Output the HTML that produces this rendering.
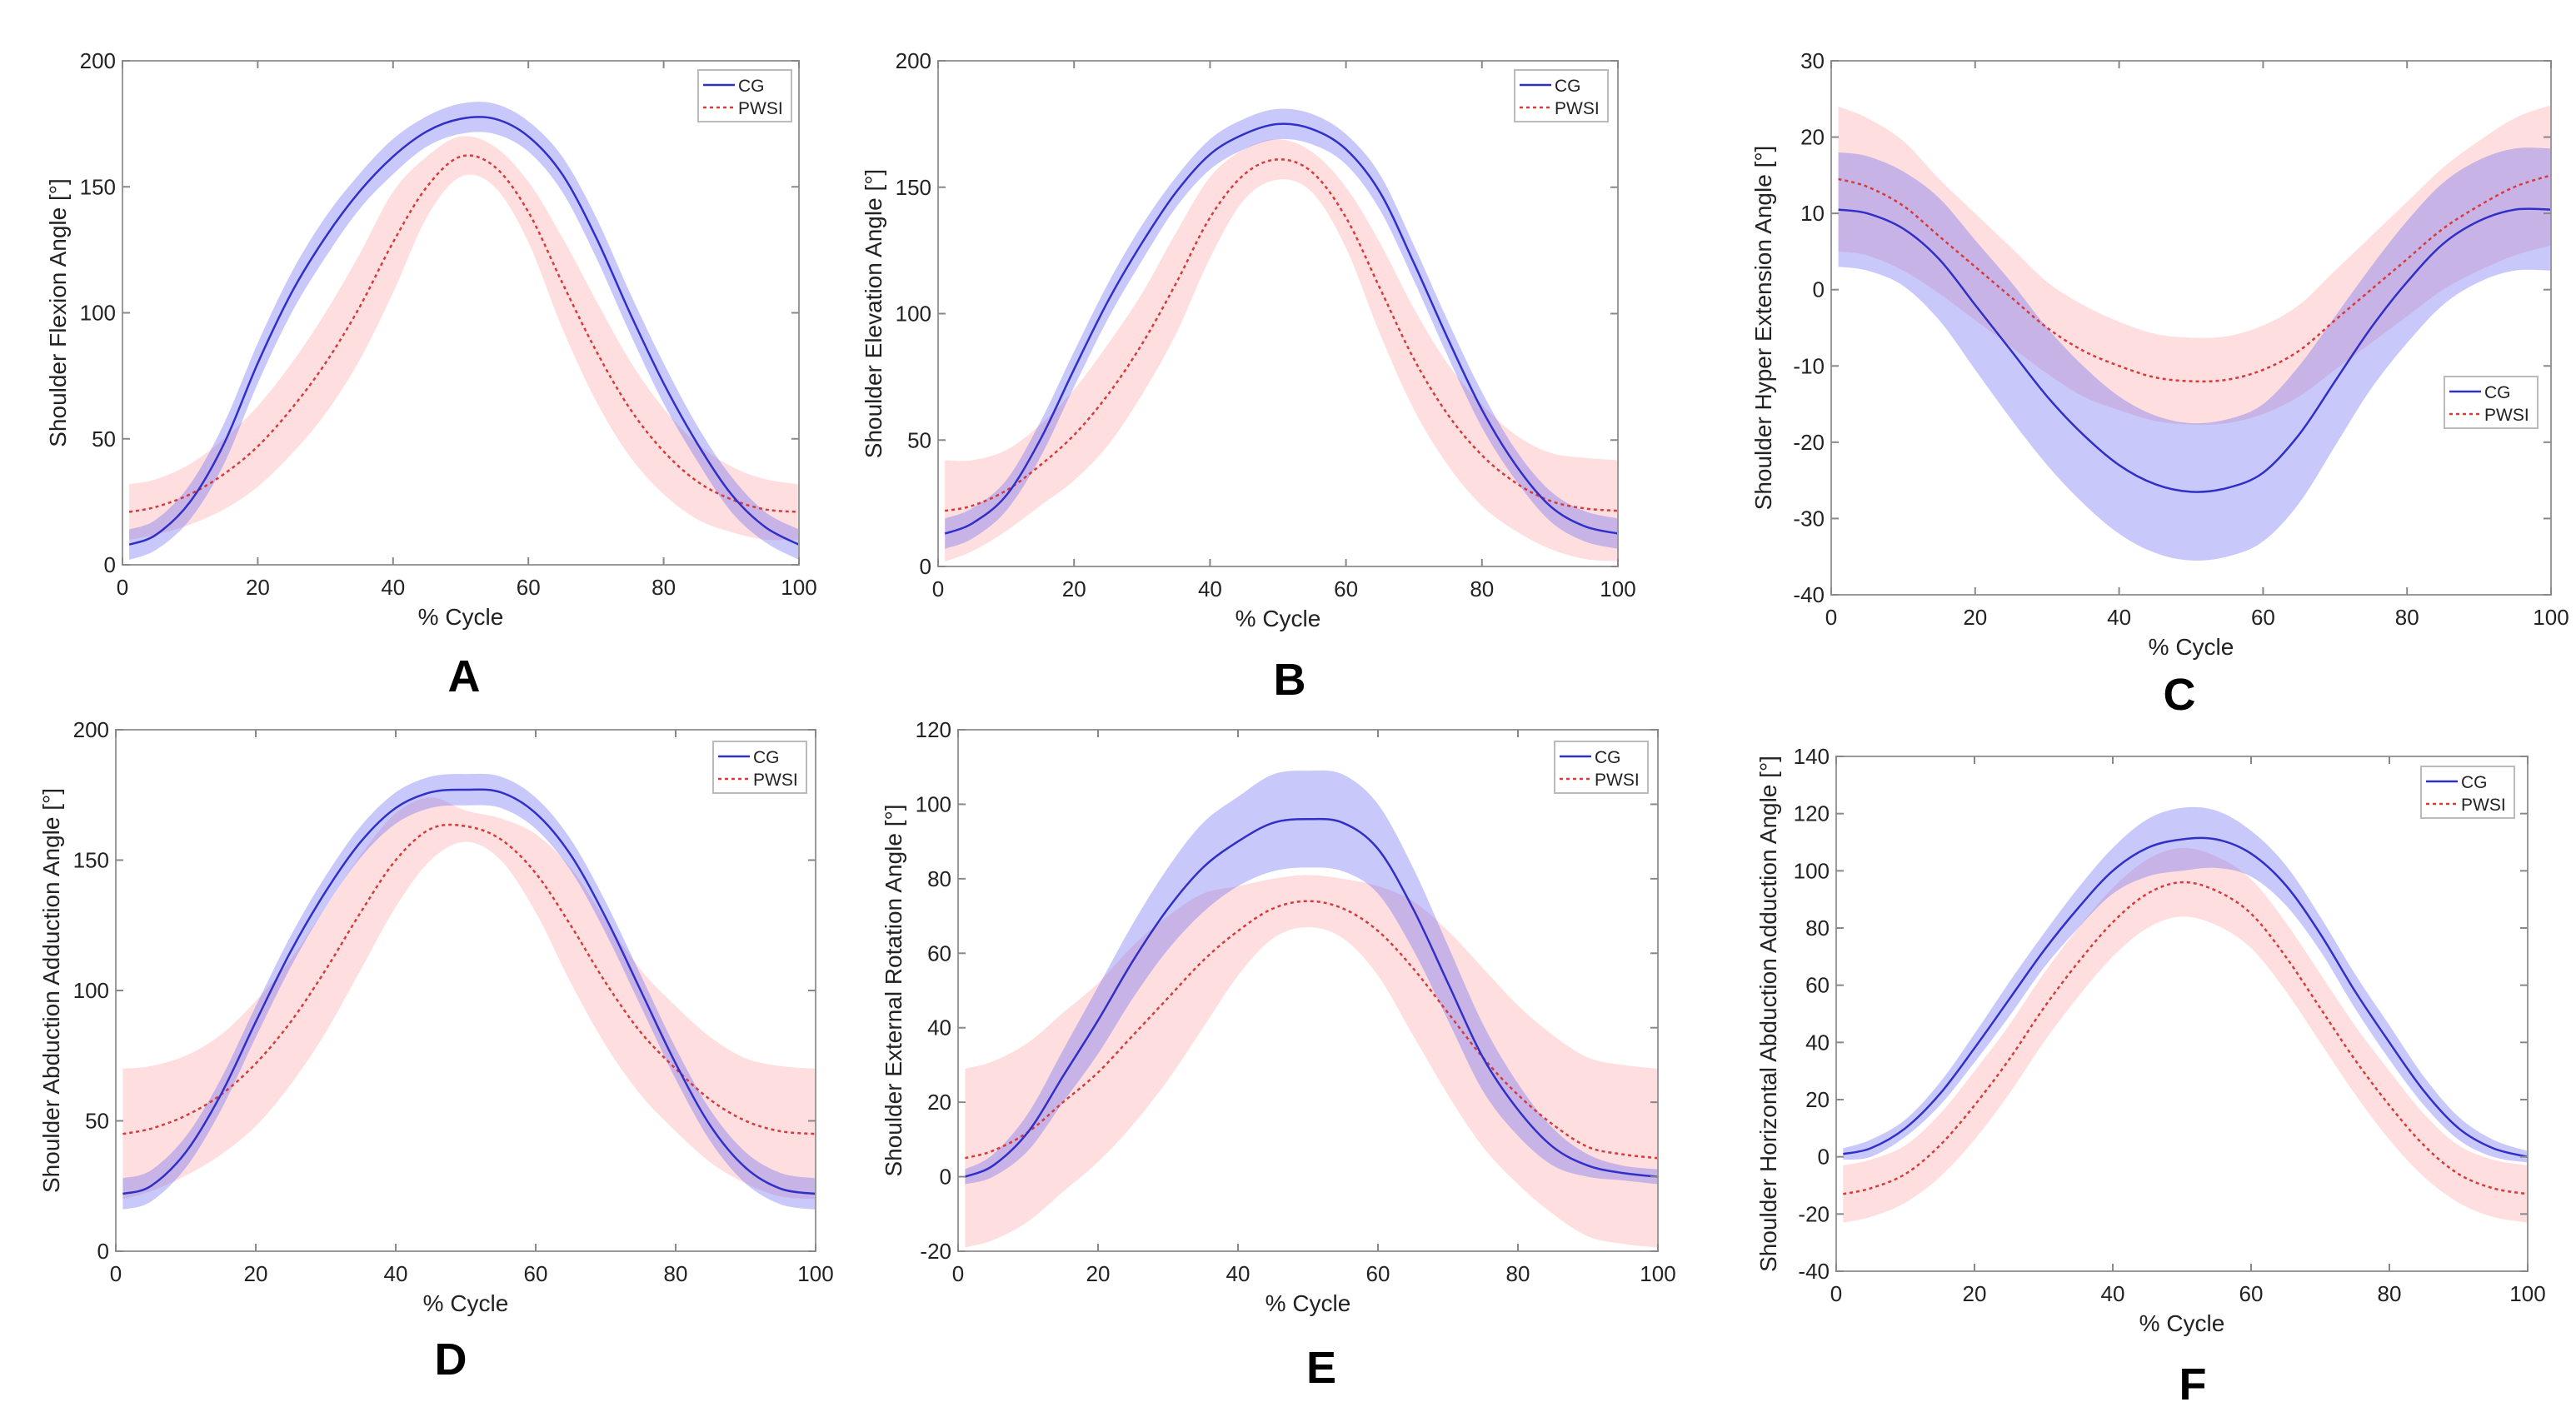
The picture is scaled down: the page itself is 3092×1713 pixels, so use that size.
<!DOCTYPE html>
<html><head><meta charset="utf-8">
<style>
html,body{margin:0;padding:0;background:#fff;}
svg{display:block;font-family:"Liberation Sans",Arial,sans-serif;}
</style></head>
<body>
<svg id="fig" width="3092" height="1713" viewBox="0 0 3092 1713" xmlns="http://www.w3.org/2000/svg"></svg>
<script>
const xPct = [0,5,10,15,20,25,30,35,40,45,50,55,60,65,70,75,80,85,90,95,100];
const xTicks = [0,20,40,60,80,100];

const aCG = [8,12,25,48,80,108,130,148,162,172,177,177,170,155,130,100,72,48,28,15,8];
const aCGsd = [6,6,7,8,8,8,8,7,7,6,6,6,6,7,8,8,8,7,7,6,6];
const aPW = [21,23,28,36,47,62,80,102,128,150,162,158,140,112,85,62,45,33,26,22,21];
const aPWsd = [11,11,12,14,16,18,20,21,20,12,8,8,12,18,20,19,17,15,13,12,11];

const bCG = [13,17,28,50,78,105,128,148,163,171,175,173,165,148,120,90,62,40,24,16,13];
const bCGsd = [6,6,6,7,7,7,7,6,6,6,6,6,6,7,7,7,7,6,6,6,6];
const bPW = [22,24,30,40,52,68,88,112,138,155,161,156,138,110,82,60,44,33,26,23,22];
const bPWsd = [20,18,16,16,18,20,20,20,16,10,8,8,12,18,20,20,20,19,19,20,20];

const cCG = [10.5,10,8,4,-2,-8,-14,-19,-23,-25.5,-26.5,-26,-24,-19,-12,-5,1,6,9,10.5,10.5];
const cCGsd = [7.5,7.5,7.5,8,8.5,9,9,9,9,9,9,9,9,9,8.5,8,8,8,8,8,8];
const cPW = [14.5,13.5,11,7,3,-1,-5,-8,-10,-11.5,-12,-11.8,-10.5,-8,-4,0,4,8,11,13.5,15];
const cPWsd = [9.5,9,8.5,7.5,7,6.5,6,6,5.8,5.7,5.7,5.7,5.8,6,6.5,7,7.5,8,8.5,9,9.2];

const dCG = [22,25,38,60,88,115,138,157,170,176,177,176,168,152,128,100,72,48,32,24,22];
const dCGsd = [6,6,6,6,6,6,6,6,6,6,6,6,6,6,6,6,6,6,6,6,6];
const dPW = [45,47,52,60,72,88,108,130,150,162,163,158,145,125,103,84,70,58,50,46,45];
const dPWsd = [25,24,23,23,24,24,24,22,18,12,6,8,15,22,24,24,24,24,24,25,25];

const eCG = [0,3,12,27,42,58,72,83,90,95,96,95,88,72,52,32,18,8,3,1,0];
const eCGsd = [2,3,5,7,9,10,11,12,12,13,13,13,12,11,10,9,7,5,3,2,2];
const ePW = [5,7,12,20,28,38,48,58,66,72,74,72,66,56,44,32,22,14,8,6,5];
const ePWsd = [24,24,24,24,24,24,22,18,12,8,7,8,12,18,22,24,24,24,24,24,24];

const fCG = [1,3,10,22,38,55,72,87,100,108,111,111,106,95,78,58,40,23,10,3,0];
const fCGsd = [2,3,3,4,5,6,6,7,8,10,11,10,8,7,6,6,6,5,4,3,2];
const fPW = [-13,-11,-6,4,18,34,52,68,82,92,96,93,85,70,52,34,18,4,-6,-11,-13];
const fPWsd = [10,10,10,11,12,12,12,12,12,12,12,12,12,12,12,12,12,11,10,10,10];

const yTicksA = [0,50,100,150,200];
const yTicksC = [-40,-30,-20,-10,0,10,20,30];
const yTicksE = [-20,0,20,40,60,80,100,120];
const yTicksF = [-40,-20,0,20,40,60,80,100,120,140];

const NS = "http://www.w3.org/2000/svg";
const svg = document.getElementById('fig');
function mk(tag, attrs, parent){ const e=document.createElementNS(NS,tag); for(const k in attrs) e.setAttribute(k,attrs[k]); (parent||svg).appendChild(e); return e; }

function smooth(pts){
  let d = "M"+pts[0][0].toFixed(1)+","+pts[0][1].toFixed(1);
  for(let i=0;i<pts.length-1;i++){
    const p0=pts[Math.max(0,i-1)], p1=pts[i], p2=pts[i+1], p3=pts[Math.min(pts.length-1,i+2)];
    const c1=[p1[0]+(p2[0]-p0[0])/6, p1[1]+(p2[1]-p0[1])/6];
    const c2=[p2[0]-(p3[0]-p1[0])/6, p2[1]-(p3[1]-p1[1])/6];
    d+=" C"+c1[0].toFixed(1)+","+c1[1].toFixed(1)+" "+c2[0].toFixed(1)+","+c2[1].toFixed(1)+" "+p2[0].toFixed(1)+","+p2[1].toFixed(1);
  }
  return d;
}
function smoothCont(pts){ return smooth(pts).replace(/^M/,"L"); }

function panel(o){
  const g = mk('g',{});
  
  
  const sx = v => o.L + (v-0)/(100)*(o.R-o.L);
  const sy = v => o.B - (v-o.ymin)/(o.ymax-o.ymin)*(o.B-o.T);
  mk('rect',{x:o.L,y:o.T,width:o.R-o.L,height:o.B-o.T,fill:'#fff'},g);
  // bands
  function band(mean, sd, fill, name){
    const up = xPct.map((x,i)=>[sx(x+ (i==0?1:0)), sy(mean[i]+sd[i])]);
    const lo = xPct.map((x,i)=>[sx(x+ (i==0?1:0)), sy(mean[i]-sd[i])]).reverse();
    const p = mk('path',{d:smooth(up)+" "+smoothCont(lo)+" Z",fill:fill},g);
    
    
  }
  band(o.pw,o.pwsd,'rgba(252,176,176,0.42)','pwsi-band');
  band(o.cg,o.cgsd,'rgba(110,110,245,0.38)','cg-band');
  const lp = mk('path',{d:smooth(xPct.map((x,i)=>[sx(x+(i==0?1:0)),sy(o.pw[i])])),fill:'none',stroke:'#d83a3a','stroke-width':2.5,'stroke-dasharray':'4 4'},g);
  
  
  const lc = mk('path',{d:smooth(xPct.map((x,i)=>[sx(x+(i==0?1:0)),sy(o.cg[i])])),fill:'none',stroke:'#3030c8','stroke-width':2.5},g);
  
  
  // frame
  mk('rect',{x:o.L,y:o.T,width:o.R-o.L,height:o.B-o.T,fill:'none',stroke:'#9a9a9a','stroke-width':2},g);
  // ticks
  xTicks.forEach(t=>{
    const x=sx(t);
    mk('line',{x1:x,y1:o.B,x2:x,y2:o.B-9,stroke:'#888','stroke-width':2},g);
    mk('line',{x1:x,y1:o.T,x2:x,y2:o.T+9,stroke:'#888','stroke-width':2},g);
    const tx=mk('text',{x:x,y:o.B+36,'font-size':26,fill:'#222','text-anchor':'middle'},g);
    tx.textContent=t;
    
    
  });
  o.yt.forEach(t=>{
    const y=sy(t);
    mk('line',{x1:o.L,y1:y,x2:o.L+9,y2:y,stroke:'#888','stroke-width':2},g);
    mk('line',{x1:o.R,y1:y,x2:o.R-9,y2:y,stroke:'#888','stroke-width':2},g);
    const tx=mk('text',{x:o.L-8,y:y+9,'font-size':26,fill:'#222','text-anchor':'end'},g);
    tx.textContent=t;
    
    
  });
  const xl=mk('text',{x:(o.L+o.R)/2,y:o.B+72,'font-size':28,fill:'#222','text-anchor':'middle'},g);
  xl.textContent='% Cycle';
  
  
  const yx=o.L-o.ytOff, yy=(o.T+o.B)/2;
  const yl=mk('text',{x:yx,y:yy,'font-size':28,fill:'#222','text-anchor':'middle',transform:'rotate(-90 '+yx+' '+yy+')'},g);
  yl.textContent=o.ytitle;
  
  
  const lt=mk('text',{x:o.letter[0],y:o.letter[1],'font-size':54,'font-weight':'bold',fill:'#000','text-anchor':'middle'},g);
  lt.textContent=o.id;
  
  
  // legend
  const lg=mk('g',{},g);
  
  
  const [lx,ly]=o.leg;
  mk('rect',{x:lx,y:ly,width:112,height:62,fill:'#fff',stroke:'#bbb','stroke-width':2},lg);
  mk('line',{x1:lx+6,y1:ly+18,x2:lx+44,y2:ly+18,stroke:'#3030c8','stroke-width':2.5},lg);
  mk('line',{x1:lx+6,y1:ly+45,x2:lx+44,y2:ly+45,stroke:'#d83a3a','stroke-width':2.5,'stroke-dasharray':'4 4'},lg);
  const t1=mk('text',{x:lx+48,y:ly+26,'font-size':21,fill:'#222'},lg); t1.textContent='CG';
  
  
  const t2=mk('text',{x:lx+48,y:ly+53,'font-size':21,fill:'#222'},lg); t2.textContent='PWSI';
  
  
}

panel({id:'A',L:147,R:959,T:73,B:678,ymin:0,ymax:200,yt:yTicksA,cg:aCG,cgsd:aCGsd,pw:aPW,pwsd:aPWsd,ytitle:'Shoulder Flexion Angle [°]',ytOff:68,letter:[557,830],leg:[838,84]});
panel({id:'B',L:1126,R:1942,T:73,B:680,ymin:0,ymax:200,yt:yTicksA,cg:bCG,cgsd:bCGsd,pw:bPW,pwsd:bPWsd,ytitle:'Shoulder Elevation Angle [°]',ytOff:68,letter:[1548,834],leg:[1818,84]});
panel({id:'C',L:2198,R:3062,T:73,B:714,ymin:-40,ymax:30,yt:yTicksC,cg:cCG,cgsd:cCGsd,pw:cPW,pwsd:cPWsd,ytitle:'Shoulder Hyper Extension Angle [°]',ytOff:72,letter:[2616,852],leg:[2934,452]});
panel({id:'D',L:139,R:979,T:876,B:1502,ymin:0,ymax:200,yt:yTicksA,cg:dCG,cgsd:dCGsd,pw:dPW,pwsd:dPWsd,ytitle:'Shoulder Abduction Adduction Angle [°]',ytOff:68,letter:[541,1650],leg:[856,890]});
panel({id:'E',L:1150,R:1990,T:876,B:1502,ymin:-20,ymax:120,yt:yTicksE,cg:eCG,cgsd:eCGsd,pw:ePW,pwsd:ePWsd,ytitle:'Shoulder External Rotation Angle [°]',ytOff:68,letter:[1586,1660],leg:[1866,890]});
panel({id:'F',L:2204,R:3034,T:908,B:1526,ymin:-40,ymax:140,yt:yTicksF,cg:fCG,cgsd:fCGsd,pw:fPW,pwsd:fPWsd,ytitle:'Shoulder Horizontal Abduction Adduction Angle [°]',ytOff:72,letter:[2632,1680],leg:[2906,920]});
</script>
</body></html>
